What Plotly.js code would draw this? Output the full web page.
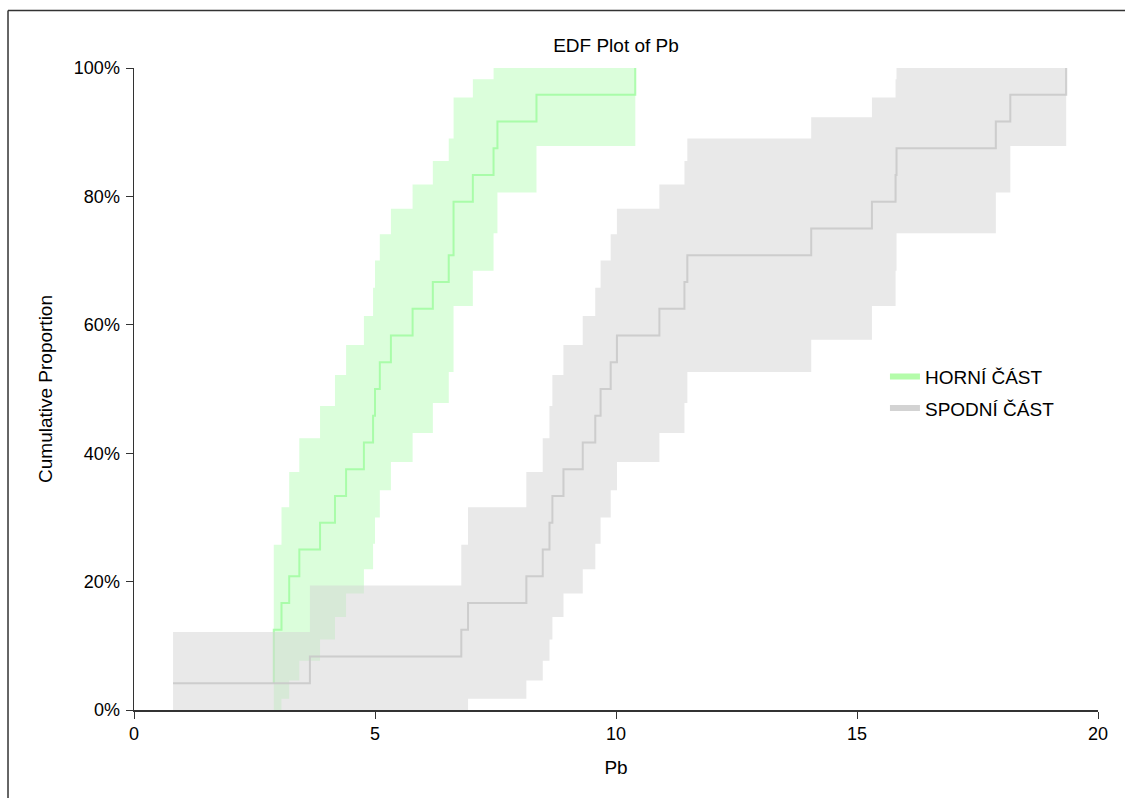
<!DOCTYPE html>
<html>
<head>
<meta charset="utf-8">
<script src="https://cdn.plot.ly/plotly-3.0.1.min.js"></script>
<style>html,body{margin:0;padding:0;background:#fff;}#chart{width:1125px;height:798px;}</style>
</head>
<body>
<div id="chart"></div>
<script>
// Series names
const seriesNames = ["HORNÍ ČÁST", "SPODNÍ ČÁST"];
// Sorted Pb values (24 samples per group)
const horniPb = [2.90, 2.90, 2.90, 3.06, 3.22, 3.43, 3.86, 4.17, 4.40, 4.77, 4.96, 5.00, 5.10, 5.33, 5.78, 6.20, 6.53, 6.63, 6.63, 7.03, 7.46, 7.54, 8.35, 10.40];
const spodniPb = [0.81, 3.65, 6.79, 6.93, 8.14, 8.48, 8.62, 8.68, 8.91, 9.31, 9.57, 9.68, 9.89, 10.02, 10.90, 11.42, 11.48, 14.05, 15.31, 15.80, 15.82, 17.88, 18.18, 19.34];
// Cumulative proportion at each step (same for both groups, n = 24)
const cumProp = [0.0417, 0.0833, 0.125, 0.1667, 0.2083, 0.25, 0.2917, 0.3333, 0.375, 0.4167, 0.4583, 0.5, 0.5417, 0.5833, 0.625, 0.6667, 0.7083, 0.75, 0.7917, 0.8333, 0.875, 0.9167, 0.9583, 1.0];
// Confidence band
const bandLower = [0, 0, 0, 0.0176, 0.0459, 0.0768, 0.1098, 0.1447, 0.1813, 0.2194, 0.2590, 0.3000, 0.3423, 0.3861, 0.4313, 0.4781, 0.5265, 0.5768, 0.6292, 0.6842, 0.7427, 0.8061, 0.8784, 1.0];
const bandUpper = [0.1216, 0.1939, 0.2573, 0.3158, 0.3708, 0.4232, 0.4735, 0.5219, 0.5687, 0.6139, 0.6577, 0.7000, 0.7410, 0.7806, 0.8187, 0.8553, 0.8902, 0.9232, 0.9541, 0.9824, 1.0, 1.0, 1.0, 1.0];
const xTicks = [0, 5, 10, 15, 20];
const yTicks = [0, 0.2, 0.4, 0.6, 0.8, 1.0];

const styles = [
  {line: 'rgba(152,251,152,0.75)', band: 'rgba(152,251,152,0.35)', legend: 'rgb(180,252,170)'},
  {line: 'rgba(200,200,200,0.85)', band: 'rgba(211,211,211,0.5)', legend: 'rgb(211,211,211)'}
];
const groups = [horniPb, spodniPb];

const traces = [];
groups.forEach(function (vals, i) {
  traces.push({x: vals, y: bandLower, type: 'scatter', mode: 'lines', line: {width: 0, shape: 'hv'}, showlegend: false, hoverinfo: 'skip'});
  traces.push({x: vals, y: bandUpper, type: 'scatter', mode: 'lines', line: {width: 0, shape: 'hv'}, fill: 'tonexty', fillcolor: styles[i].band, showlegend: false, hoverinfo: 'skip'});
  traces.push({x: vals, y: cumProp, type: 'scatter', mode: 'lines', line: {color: styles[i].line, width: 2, shape: 'hv'}, showlegend: false, name: seriesNames[i]});
});
seriesNames.forEach(function (nm, i) {
  traces.push({x: [null], y: [null], type: 'scatter', mode: 'lines', name: nm, line: {color: styles[i].legend, width: 6}, legendgroup: 'g' + i});
});

const font = 'Liberation Sans, Arial, sans-serif';
const layout = {
  width: 1125, height: 798,
  margin: {l: 134, r: 27, t: 68, b: 88},
  paper_bgcolor: '#fff', plot_bgcolor: '#fff',
  font: {family: font, size: 18, color: '#000'},
  title: {text: 'EDF Plot of Pb', x: 0.5, xref: 'paper', y: 1 - 45 / 798, yref: 'container', yanchor: 'middle', font: {family: font, size: 19, color: '#000'}},
  xaxis: {
    range: [0, 20], tickvals: xTicks, ticktext: xTicks.map(String),
    showgrid: false, zeroline: false, showline: true, linecolor: '#333', linewidth: 1.5,
    ticks: 'outside', ticklen: 7, tickcolor: '#333', tickfont: {size: 18},
    title: {text: 'Pb', font: {size: 19}, standoff: 17}
  },
  yaxis: {
    range: [0, 1], tickvals: yTicks, tickformat: '.0%',
    showgrid: false, zeroline: false, showline: true, linecolor: '#333', linewidth: 1.5,
    ticks: 'outside', ticklen: 7, tickcolor: '#333', tickfont: {size: 18}, ticklabelstandoff: 2,
    title: {text: 'Cumulative Proportion', font: {size: 19}, standoff: 16}
  },
  legend: {x: 0.779, y: 0.549, xanchor: 'left', yanchor: 'top', font: {size: 19}, traceorder: 'grouped', tracegroupgap: 4, bgcolor: 'rgba(0,0,0,0)'},
  shapes: [
    {type: 'line', xref: 'paper', yref: 'paper', x0: -0.1307, x1: 1.05, y0: 1.0896, y1: 1.0896, line: {color: '#333', width: 1.5}},
    {type: 'line', xref: 'paper', yref: 'paper', x0: -0.1307, x1: -0.1307, y0: 1.0896, y1: -0.2, line: {color: '#333', width: 1.5}}
  ]
};
Plotly.newPlot('chart', traces, layout, {displayModeBar: false, staticPlot: true});
</script>
</body>
</html>
